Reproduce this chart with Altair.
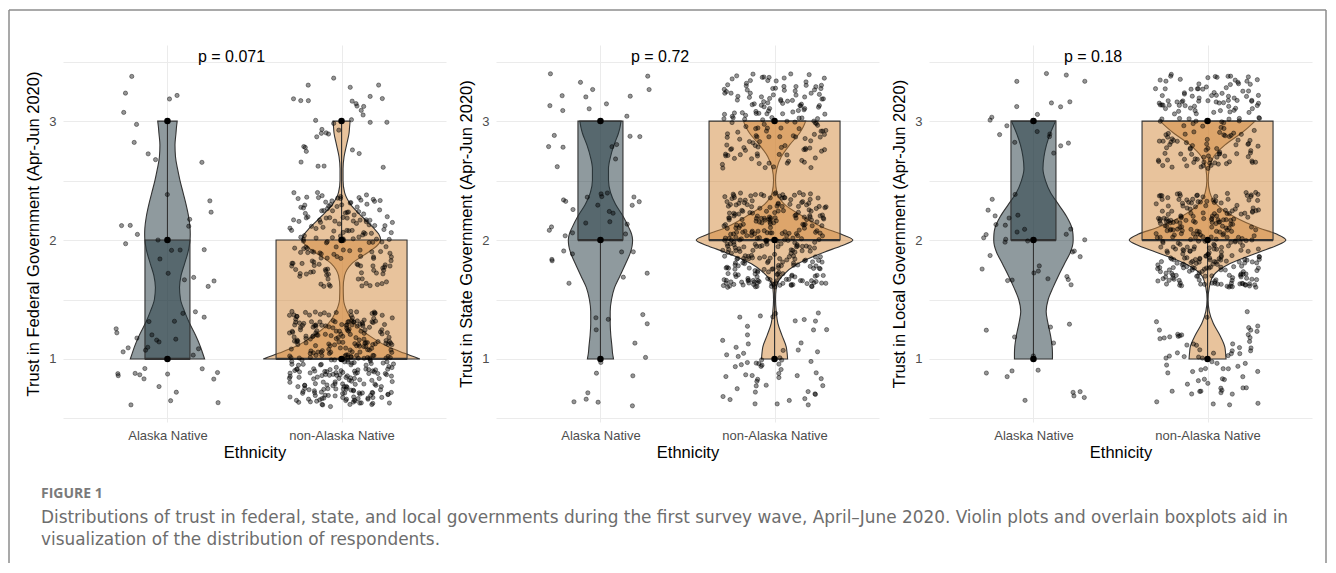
import altair as alt
import pandas as pd

# ---------------- data ----------------
groups = ["Alaska Native", "non-Alaska Native"]
levels = [1, 2, 3]
y_titles = [
    "Trust in Federal Government (Apr-Jun 2020)",
    "Trust in State Government (Apr-Jun 2020)",
    "Trust in Local Government (Apr-Jun 2020)",
]
p_labels = ["p = 0.071", "p = 0.72", "p = 0.18"]
x_title = "Ethnicity"

# respondents per answer (1, 2, 3)
federal_an = [33, 19, 10]
federal_non = [330, 170, 35]
state_an = [15, 30, 22]
state_non = [60, 320, 160]
local_an = [15, 32, 20]
local_non = [70, 300, 170]

# violin half-widths at these answer values
violin_y = [1.0, 1.05, 1.1, 1.2, 1.3, 1.4, 1.5, 1.6, 1.7, 1.8, 1.9, 1.95, 2.0,
            2.05, 2.1, 2.2, 2.3, 2.4, 2.5, 2.6, 2.7, 2.8, 2.9, 2.95, 3.0]
violin_federal_an = [37, 35, 33, 28, 22, 17, 13, 12, 13.5, 17, 20.5, 21.7, 22.5,
                     22.7, 22.5, 21, 18.5, 15.5, 12.5, 10, 8, 7.5, 8.5, 9, 9.7]
violin_federal_non = [78, 62, 47, 27, 13, 5.5, 2, 1.7, 3, 10, 27, 35, 39,
                      37, 32, 20, 9, 3, 1.5, 1.5, 2.5, 5, 7.5, 8, 8.5]
violin_state_an = [13, 12, 11.5, 10.3, 9.7, 9.7, 11, 14, 19.5, 25, 30, 31.5, 32,
                   31, 28.5, 22.5, 15, 10, 8, 8, 10, 13.5, 18, 19.5, 20.5]
violin_state_non = [13, 12.5, 11.7, 7.3, 3.3, 1.7, 1, 1.7, 8, 23, 50, 66, 78,
                    66, 50, 28, 10, 2.3, 1, 2.3, 6.7, 15, 25, 28.5, 31]
violin_local_an = [19, 19, 18.7, 17, 14.5, 12.7, 14.7, 19.5, 25, 31, 37, 39, 39.7,
                   39.5, 38.5, 33, 25, 17, 12, 9.5, 10.5, 13, 17, 19.5, 22]
violin_local_non = [18.5, 18, 17.3, 12.3, 5.7, 1.7, 0.5, 1.7, 5.7, 22, 52, 68, 78.3,
                    69, 52, 25.7, 9, 2.3, 0.7, 1.7, 6, 17.5, 34, 41, 47.5]

caption_label = "FIGURE 1"
caption_lines = [
    "Distributions of trust in federal, state, and local governments during the first survey wave, "
    "April\u2013June 2020. Violin plots and overlain boxplots aid in",
    "visualization of the distribution of respondents.",
]

# ---------------- styles ----------------
AN_COLOR = "#20363e"
NON_COLOR = "#d18739"
GROUP_COLORS = [AN_COLOR, NON_COLOR]
EDGE = "#333333"
GRID = "#ebebeb"
FONT = "Liberation Sans"
CAP_FONT = "DejaVu Sans"
PANEL_W, PANEL_H = 383, 377
X_DOMAIN = [0.4, 2.6]
BOX_WIDTHS = [45, 131]
PX_PER_UNIT = PANEL_W / (X_DOMAIN[1] - X_DOMAIN[0])

counts = [(federal_an, federal_non), (state_an, state_non), (local_an, local_non)]
violins = [(violin_federal_an, violin_federal_non), (violin_state_an, violin_state_non),
           (violin_local_an, violin_local_non)]

rows = []
idx = 0
for p, pair in enumerate(counts):
    for g, cts in enumerate(pair):
        for lev, n in zip(levels, cts):
            for _ in range(n):
                rows.append(dict(panel=p, grp=groups[g], gx=g + 1, value=lev, idx=idx))
                idx += 1
pts_df = pd.DataFrame(rows)

vrows = []
for p, pair in enumerate(violins):
    widest = max(max(pair[0]), max(pair[1]))
    for g, ws in enumerate(pair):
        for v, w in zip(violin_y, ws):
            vrows.append(dict(panel=p, grp=groups[g], gx=g + 1, v=v, rel=w / widest))
vio_df = pd.DataFrame(vrows)

xs = alt.Scale(domain=X_DOMAIN, nice=False, zero=False)
ys = alt.Scale(domain=[0.47, 3.64], nice=False, zero=False)
fill_scale = alt.Scale(domain=groups, range=GROUP_COLORS)

x_label_expr = "datum.value == 1 ? '%s' : '%s'" % (groups[0], groups[1])
xaxis = alt.Axis(values=[1, 2], labelExpr=x_label_expr, grid=True, ticks=False, tickSize=0,
                 domain=False, gridColor=GRID, gridWidth=1, labelFont=FONT, labelFontSize=13,
                 labelColor="#4d4d4d", labelPadding=7, titleFont=FONT, titleFontSize=16.5,
                 titleFontWeight="normal", titleColor="#000000", titlePadding=2)
yaxis = alt.Axis(values=[0.5, 1, 1.5, 2, 2.5, 3, 3.5],
                 labelExpr="(datum.value % 1) == 0 ? format(datum.value, 'd') : ''",
                 grid=True, ticks=False, tickSize=0, domain=False, gridColor=GRID, gridWidth=1,
                 labelFont=FONT, labelFontSize=13, labelColor="#4d4d4d", labelPadding=7,
                 labelOverlap=False, titleFont=FONT, titleFontSize=16.5, titleFontWeight="normal",
                 titleColor="#000000", titlePadding=7)


def make_panel(p):
    pts = pts_df[pts_df.panel == p]

    def X(field, **kw):
        return alt.X(field, scale=xs, axis=xaxis, title=x_title, **kw)

    def Y(field):
        return alt.Y(field, scale=ys, axis=yaxis, title=y_titles[p])

    layers = []
    for g in range(2):
        vio = vio_df[(vio_df.panel == p) & (vio_df.gx == g + 1)]
        layers.append(
            alt.Chart(vio).transform_calculate(
                xl="datum.gx - datum.rel * 0.45", xr="datum.gx + datum.rel * 0.45"
            ).mark_area(orient="horizontal", interpolate="monotone", fill=GROUP_COLORS[g],
                        fillOpacity=0.5, stroke=EDGE, strokeWidth=1.1).encode(
                y=Y("v:Q"), x=X("xl:Q", stack=None), x2="xr:Q",
            )
        )

    stats = alt.Chart(pts).transform_aggregate(
        q1="q1(value)", q3="q3(value)", med="median(value)", lo="min(value)", hi="max(value)",
        groupby=["gx", "grp"],
    ).transform_calculate(
        half="(datum.gx == 1 ? %f : %f) / 2 / %f" % (BOX_WIDTHS[0], BOX_WIDTHS[1], PX_PER_UNIT)
    ).transform_calculate(
        bl="datum.gx - datum.half", br="datum.gx + datum.half"
    )
    box = stats.mark_bar(fillOpacity=0.5, stroke=EDGE, strokeWidth=1.1).encode(
        x=X("bl:Q"), x2="br:Q", y=Y("q1:Q"), y2="q3:Q",
        fill=alt.Fill("grp:N", scale=fill_scale, legend=None),
    )
    median = stats.mark_rule(color=EDGE, strokeWidth=2.2).encode(
        x=X("bl:Q"), x2="br:Q", y=Y("med:Q"),
    )
    wh_up = stats.mark_rule(color=EDGE, strokeWidth=1.1).encode(x=X("gx:Q"), y=Y("q3:Q"), y2="hi:Q")
    wh_lo = stats.mark_rule(color=EDGE, strokeWidth=1.1).encode(x=X("gx:Q"), y=Y("lo:Q"), y2="q1:Q")

    jitter = alt.Chart(pts).transform_calculate(
        ux="abs(sin(datum.idx * 12.9898 + 0.7) * 43758.5453) % 1",
        uy="abs(sin(datum.idx * 78.233 + 3.1) * 24634.6345) % 1",
    ).transform_calculate(
        jx="datum.gx + (2 * datum.ux - 1) * 0.3",
        jy="datum.value + (2 * datum.uy - 1) * 0.4",
    ).mark_circle(size=18, fill="black", fillOpacity=0.42, stroke="black", strokeWidth=0.8,
                  strokeOpacity=0.5).encode(x=X("jx:Q"), y=Y("jy:Q"))

    dots = alt.Chart(pts).transform_aggregate(
        n="count()", groupby=["gx", "value"]
    ).mark_circle(size=42, fill="black", opacity=1).encode(x=X("gx:Q"), y=Y("value:Q"))

    ptext = alt.Chart(pd.DataFrame({"label": [p_labels[p]]})).mark_text(
        align="left", baseline="middle", font=FONT, fontSize=16, color="black"
    ).encode(
        x=alt.X(datum=1.175, type="quantitative", scale=xs, axis=xaxis, title=x_title),
        y=alt.Y(datum=3.54, type="quantitative", scale=ys, axis=yaxis, title=y_titles[p]),
        text="label:N",
    )

    layers += [box, median, wh_up, wh_lo, jitter, dots, ptext]

    if p == 0:
        dummy = pd.DataFrame({"k": [0]})
        fr = dict(color="#8c8c8c", strokeWidth=1.5)
        top = alt.Chart(dummy).mark_rule(**fr).encode(
            x=alt.value(-54), x2=alt.value(1263), y=alt.value(-35))
        left = alt.Chart(dummy).mark_rule(**fr).encode(
            x=alt.value(-54), y=alt.value(-35), y2=alt.value(518))
        right = alt.Chart(dummy).mark_rule(**fr).encode(
            x=alt.value(1263), y=alt.value(-35), y2=alt.value(518))
        cap0 = alt.Chart(dummy).mark_text(
            text=caption_label, align="left", baseline="alphabetic", font="Open Sans",
            fontSize=14, fontWeight="bold", color="#7a7a7a"
        ).encode(x=alt.value(-22), y=alt.value(453))
        cap1 = alt.Chart(dummy).mark_text(
            text=caption_lines[0], align="left", baseline="alphabetic", font=CAP_FONT,
            fontSize=16.9, color="#6d6d6d"
        ).encode(x=alt.value(-22), y=alt.value(478))
        cap2 = alt.Chart(dummy).mark_text(
            text=caption_lines[1], align="left", baseline="alphabetic", font=CAP_FONT,
            fontSize=16.9, color="#6d6d6d"
        ).encode(x=alt.value(-22), y=alt.value(500))
        layers += [top, left, right, cap0, cap1, cap2]

    return alt.layer(*layers).properties(width=PANEL_W, height=PANEL_H)


chart = alt.hconcat(
    make_panel(0), make_panel(1), make_panel(2), spacing=50, bounds="flush"
).properties(
    padding={"left": 0, "top": 1, "right": 0, "bottom": 0},
    background="white",
).configure_view(stroke=None)

chart.save("out.html", embed_options={"renderer": "svg", "actions": False})
